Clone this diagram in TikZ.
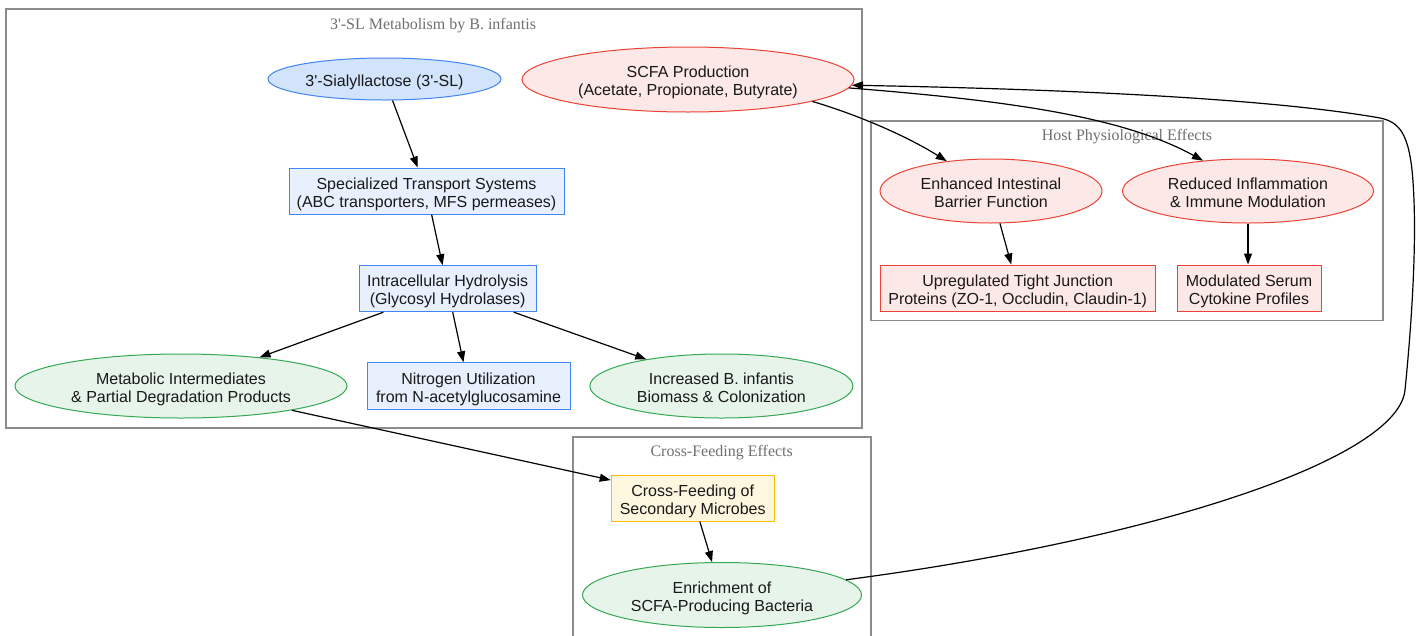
\documentclass[tikz,border=0pt]{standalone}
\usepackage{fontspec}
\newfontfamily\nodefont{Liberation Sans}
\newfontfamily\titlefont{Liberation Serif}
\usetikzlibrary{shapes.geometric,arrows.meta}
\definecolor{blueline}{HTML}{4285F4}
\definecolor{bluefill}{HTML}{E8F0FE}
\definecolor{bluefilldk}{HTML}{D2E3FC}
\definecolor{redline}{HTML}{EA4335}
\definecolor{redfill}{HTML}{FCE8E6}
\definecolor{greenline}{HTML}{34A853}
\definecolor{greenfill}{HTML}{E6F4EA}
\definecolor{yellowline}{HTML}{FBBC04}
\definecolor{yellowfill}{HTML}{FEF7E0}
\definecolor{clusterline}{RGB}{140,140,140}
\definecolor{titlegray}{RGB}{112,112,112}
\definecolor{textdark}{RGB}{25,25,25}
\begin{document}
\begin{tikzpicture}[x=1pt,y=-1pt,
  base/.style={font=\nodefont\fontsize{16}{18}\selectfont, align=center, text=textdark, line width=1pt, inner sep=0pt,
    text height=35.5pt, text depth=3pt},
  oneline/.style={text height=18.5pt, text depth=3pt},
  ell/.style={base, ellipse},
  box/.style={base, rectangle},
  bluee/.style={draw=blueline, fill=bluefilldk},
  blueb/.style={draw=blueline, fill=bluefill},
  rednode/.style={draw=redline, fill=redfill},
  greennode/.style={draw=greenline, fill=greenfill},
  yellownode/.style={draw=yellowline, fill=yellowfill},
  cluster/.style={draw=clusterline, line width=1.3pt},
  ctitle/.style={font=\titlefont\fontsize{16}{18}\selectfont, text=titlegray, inner sep=0pt},
  arr/.style={-{Triangle[length=11pt,width=8pt]}, line width=1.2pt, draw=black}]
\clip (0,0) rectangle (1426,635);
\fill[white] (0,0) rectangle (1426,635);

% clusters
\draw[cluster] (6,9) rectangle (862,428);
\node[ctitle] (t1) at (433,25.5) {3'-SL Metabolism by B. infantis};
\draw[cluster] (871,121) rectangle (1383,320.5);
\node[ctitle] (t2) at (1127,137) {Host Physiological Effects};
\draw[cluster] (573,437) rectangle (871,660);
\node[ctitle] (t3) at (721.7,453) {Cross-Feeding Effects};

% nodes
\node[ell, bluee, oneline, minimum width=233, minimum height=42] (sl) at (384.5,79) {3'-Sialyllactose (3'-SL)};
\node[ell, rednode, minimum width=332, minimum height=65] (scfa) at (688,79.5) {SCFA Production\\(Acetate, Propionate, Butyrate)};
\node[box, blueb, minimum width=275, minimum height=46] (trans) at (426.5,191) {Specialized Transport Systems\\(ABC transporters, MFS permeases)};
\node[box, blueb, minimum width=177, minimum height=46] (hyd) at (447.7,288.7) {Intracellular Hydrolysis\\(Glycosyl Hydrolases)};
\node[ell, greennode, minimum width=332, minimum height=64] (met) at (181,386) {Metabolic Intermediates\\\& Partial Degradation Products};
\node[box, blueb, minimum width=203, minimum height=46.5] (nit) at (468.5,386) {Nitrogen Utilization\\from N-acetylglucosamine};
\node[ell, greennode, minimum width=263, minimum height=64] (inc) at (721.4,386) {Increased B. infantis\\Biomass \& Colonization};
\node[ell, rednode, minimum width=222, minimum height=64] (enh) at (991,191) {Enhanced Intestinal\\Barrier Function};
\node[ell, rednode, minimum width=251, minimum height=64] (rdc) at (1248,191) {Reduced Inflammation\\\& Immune Modulation};
\node[box, rednode, minimum width=275, minimum height=46] (upr) at (1017.7,288) {Upregulated Tight Junction\\Proteins (ZO-1, Occludin, Claudin-1)};
\node[box, rednode, minimum width=144, minimum height=46] (mod) at (1249,288) {Modulated Serum\\Cytokine Profiles};
\node[box, yellownode, minimum width=163, minimum height=46] (cf) at (692.7,498) {Cross-Feeding of\\Secondary Microbes};
\node[ell, greennode, minimum width=279, minimum height=65] (enr) at (722,595) {Enrichment of\\SCFA-Producing Bacteria};

% edges
\draw[arr] (sl) -- (trans);
\draw[arr] (trans) -- (hyd);
\draw[arr] (hyd) -- (met);
\draw[arr] (hyd) -- (nit);
\draw[arr] (hyd) -- (inc);
\draw[arr] (met) -- (cf);
\draw[arr] (cf) -- (enr);
\draw[arr] (enh) -- (upr);
\draw[arr] (rdc) -- (rdc |- mod.north);
\draw[arr] (scfa.-10.9) .. controls (855,114) and (905,135) .. (enh.146.6);
\draw[arr] (scfa.-3) .. controls (1000,100) and (1120,115) .. (rdc.146.8);
\draw[arr] (enr.7) .. controls (1150,540) and (1398,460) .. (1405,390)
  .. controls (1412,320) and (1418,230) .. (1412,170)
  .. controls (1408,135) and (1400,122) .. (1380,118)
  .. controls (1250,95) and (1000,88) .. (scfa.-2);
\end{tikzpicture}
\end{document}
